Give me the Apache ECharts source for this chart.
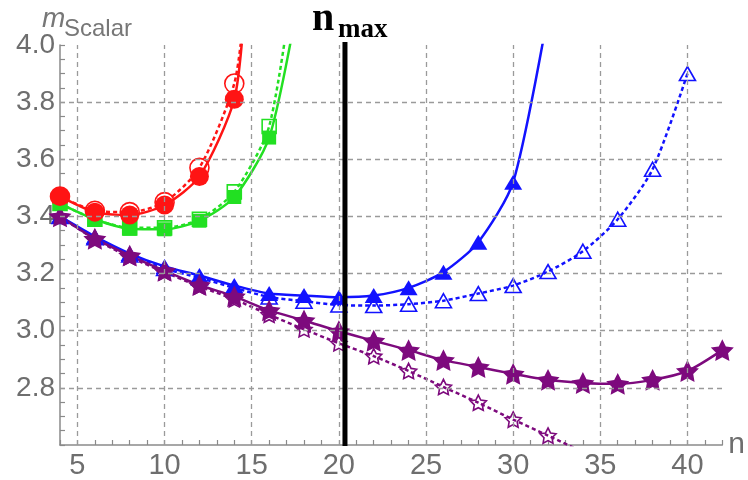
<!DOCTYPE html>
<html>
<head>
<meta charset="utf-8">
<script src="https://cdn.jsdelivr.net/npm/echarts@6/dist/echarts.min.js"></script>
<style>
  html, body { margin: 0; padding: 0; background: #fff; }
  #chart { width: 748px; height: 480px; }
</style>
</head>
<body>
<div id="chart"></div>
<script>
// Scalar mass estimates versus truncation order n
const nRed = [4, 6, 8, 10, 12, 14];
const redFilled = [3.47, 3.415, 3.405, 3.44, 3.54, 3.81];
const redOpen = [3.47, 3.42, 3.415, 3.45, 3.57, 3.865];
const redFilledExit = [14.6, 4.14];
const redOpenExit = [14.6, 4.14];

const nGreen = [4, 6, 8, 10, 12, 14, 16];
const greenFilled = [3.445, 3.39, 3.357, 3.355, 3.385, 3.468, 3.676];
const greenOpen = [3.445, 3.39, 3.36, 3.36, 3.39, 3.486, 3.715];
const greenFilledExit = [17.5, 4.1];
const greenOpenExit = [17.5, 4.28];

const nBlueFilled = [4, 6, 8, 10, 12, 14, 16, 18, 20, 22, 24, 26, 28, 30];
const blueFilled = [3.40, 3.33, 3.27, 3.225, 3.193, 3.158, 3.13, 3.123, 3.117, 3.123, 3.15, 3.205, 3.31, 3.52];
const blueFilledExit = [32, 4.11];
const nBlueOpen = [4, 6, 8, 10, 12, 14, 16, 18, 20, 22, 24, 26, 28, 30, 32, 34, 36, 38, 40];
const blueOpen = [3.40, 3.325, 3.265, 3.218, 3.185, 3.15, 3.118, 3.103, 3.09, 3.088, 3.093, 3.105, 3.13, 3.158, 3.207, 3.278, 3.39, 3.565, 3.90];

const nPurpleFilled = [4, 6, 8, 10, 12, 14, 16, 18, 20, 22, 24, 26, 28, 30, 32, 34, 36, 38, 40, 42];
const purpleFilled = [3.40, 3.322, 3.263, 3.21, 3.16, 3.12, 3.071, 3.036, 2.998, 2.965, 2.932, 2.897, 2.873, 2.849, 2.828, 2.817, 2.814, 2.828, 2.859, 2.932];
const nPurpleOpen = [4, 6, 8, 10, 12, 14, 16, 18, 20, 22, 24, 26, 28, 30, 32];
const purpleOpen = [3.40, 3.32, 3.258, 3.205, 3.155, 3.11, 3.056, 3.005, 2.956, 2.911, 2.859, 2.803, 2.748, 2.689, 2.633];
const purpleOpenExit = [34, 2.575];

// axis ticks and grid
const xGridTicks = [5, 10, 15, 20, 25, 30, 35, 40];
const yGridTicks = [2.8, 3.0, 3.2, 3.4, 3.6, 3.8];
const nMax = 20.35;
const X_MIN = 4, X_MAX = 42, Y_MIN = 2.6, Y_MAX = 4.0;

const RED = '#ff1414', GREEN = '#22e022', BLUE = '#1212ff', PURPLE = '#7d0a7d';

// five-pointed star outline for the star markers
function starPath(inner) {
  const pts = [];
  for (let i = 0; i < 10; i++) {
    const a = -Math.PI / 2 + i * Math.PI / 5;
    const r = i % 2 ? inner : 1;
    pts.push((r * Math.cos(a)).toFixed(4) + ' ' + (r * Math.sin(a)).toFixed(4));
  }
  return 'path://M' + pts.join(' L') + ' Z';
}
const STAR = starPath(0.5);

function pairs(xs, ys, exit) {
  const d = xs.map((x, i) => [x, ys[i]]);
  if (exit) d.push({ value: exit, symbol: 'none' });
  return d;
}

function curve(xs, ys, exit, color, dashed, symbol, size, filled) {
  return {
    type: 'line',
    data: pairs(xs, ys, exit),
    smooth: 0.25,
    symbol: symbol,
    symbolSize: size,
    symbolKeepAspect: true,
    showAllSymbol: true,
    clip: true,
    lineStyle: { color: color, width: 2.5, type: dashed ? [4, 3] : 'solid' },
    itemStyle: filled
      ? { color: color, borderColor: color, borderWidth: 0 }
      : { color: 'rgba(255,255,255,0)', borderColor: color, borderWidth: 1.6 },
    emphasis: { disabled: true },
    z: filled ? 4 : 3
  };
}

const chart = echarts.init(document.getElementById('chart'));
const axisGray = '#8a8a8a';
const labelGray = '#6e6e6e';

const titleTexts = [
  { id: 'm', type: 'text', left: 42, top: 5, style: { text: 'm', font: 'italic 28px "Liberation Sans"', fill: '#777' } },
  { id: 'scalar', type: 'text', left: 64, top: 17, style: { text: 'Scalar', font: '24px "Liberation Sans"', fill: '#777' } },
  { id: 'n', type: 'text', left: 312, top: 0, style: { text: 'n', font: 'bold 40px "Liberation Serif"', fill: '#000' } },
  { id: 'max', type: 'text', left: 338, top: 17, style: { text: 'max', font: 'bold 27px "Liberation Serif"', fill: '#000' } }
];

chart.setOption({
  animation: false,
  grid: { left: 60, right: 24, top: 45, bottom: 33 },
  xAxis: {
    type: 'value', min: X_MIN, max: X_MAX, interval: 1,
    name: 'n', nameLocation: 'end', nameGap: 6,
    nameTextStyle: { color: labelGray, fontSize: 30, fontFamily: 'Liberation Sans', verticalAlign: 'middle' },
    axisLine: { lineStyle: { color: axisGray, width: 1.5 } },
    axisTick: { inside: true, length: 5, lineStyle: { color: axisGray, width: 1.2 } },
    axisLabel: {
      color: labelGray, fontSize: 29, fontFamily: 'Liberation Sans', margin: 6,
      formatter: v => (Math.abs(v % 5) < 1e-9 ? String(v) : '')
    },
    splitLine: { show: false }
  },
  yAxis: {
    type: 'value', min: Y_MIN, max: Y_MAX, interval: 0.05,
    axisLine: { show: true, lineStyle: { color: axisGray, width: 1.5 } },
    axisTick: { show: true, inside: true, length: 5, lineStyle: { color: axisGray, width: 1.2 } },
    axisLabel: {
      color: labelGray, fontSize: 28, fontFamily: 'Liberation Sans', margin: 5,
      formatter: v => {
        const k = v / 0.2;
        return (Math.abs(k - Math.round(k)) < 1e-6 && v > 2.65) ? v.toFixed(1) : '';
      }
    },
    splitLine: { show: false }
  },
  graphic: titleTexts,
  series: [
    {
      // dashed grid lines
      type: 'line', data: [], clip: false, silent: true,
      markLine: {
        silent: true, symbol: ['none', 'none'], label: { show: false },
        emphasis: { disabled: true },
        lineStyle: { color: '#9a9a9a', width: 1.3, type: [5, 4] },
        data: xGridTicks.map(v => ({ xAxis: v })).concat(yGridTicks.map(v => ({ yAxis: v })))
      },
      z: 1
    },
    curve(nPurpleOpen, purpleOpen, purpleOpenExit, PURPLE, true, STAR, 16, false),
    curve(nBlueOpen, blueOpen, null, BLUE, true, 'triangle', [16, 14], false),
    curve(nGreen, greenOpen, greenOpenExit, GREEN, true, 'rect', 14, false),
    curve(nRed, redOpen, redOpenExit, RED, true, 'circle', 19, false),
    curve(nBlueFilled, blueFilled, blueFilledExit, BLUE, false, 'triangle', [18, 15], true),
    curve(nPurpleFilled, purpleFilled, null, PURPLE, false, STAR, 23, true),
    curve(nGreen, greenFilled, greenFilledExit, GREEN, false, 'rect', 14, true),
    curve(nRed, redFilled, redFilledExit, RED, false, 'circle', 19, true)
  ]
});

// n_max marker: a thick vertical rule at n = nMax, running slightly past both ends of the y range
const pTop = chart.convertToPixel({ gridIndex: 0 }, [nMax, Y_MAX]);
const pBot = chart.convertToPixel({ gridIndex: 0 }, [nMax, Y_MIN]);
chart.setOption({
  graphic: titleTexts.concat([{
    id: 'nmaxLine', type: 'line', z: 100,
    shape: { x1: pTop[0], y1: pTop[1] - 3, x2: pBot[0], y2: pBot[1] + 1 },
    style: { stroke: '#000', lineWidth: 5 }
  }])
});
</script>
</body>
</html>
